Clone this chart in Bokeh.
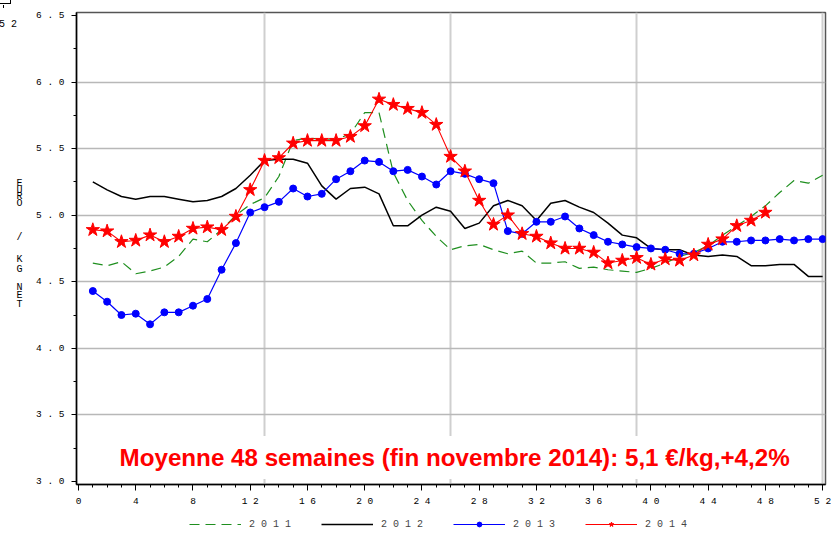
from bokeh.plotting import figure
from bokeh.models import (FixedTicker, Label, Legend, LegendItem, Range1d, Div)
from bokeh.layouts import row, column
from bokeh.embed import file_html
from bokeh.resources import INLINE

weeks = list(range(1, 53))
weeks_2014 = list(range(1, 49))

y2011 = [4.64, 4.62, 4.65, 4.56, 4.58, 4.61, 4.69, 4.82, 4.80, 4.89,
         5.00, 5.08, 5.13, 5.29, 5.56, 5.58, 5.57, 5.57, 5.61, 5.77,
         5.77, 5.32, 5.11, 4.96, 4.84, 4.74, 4.77, 4.78, 4.74, 4.71,
         4.73, 4.64, 4.64, 4.65, 4.60, 4.61, 4.59, 4.58, 4.57, 4.60,
         4.64, 4.69, 4.72, 4.77, 4.85, 4.92, 4.99, 5.07, 5.17, 5.26, 5.24, 5.30]
y2012 = [5.25, 5.19, 5.14, 5.12, 5.14, 5.14, 5.12, 5.10, 5.11, 5.14,
         5.20, 5.30, 5.41, 5.42, 5.42, 5.39, 5.22, 5.12, 5.20, 5.21,
         5.16, 4.92, 4.92, 5.00, 5.06, 5.03, 4.90, 4.94, 5.07, 5.11,
         5.07, 4.96, 5.09, 5.11, 5.06, 5.02, 4.94, 4.85, 4.83, 4.75,
         4.74, 4.74, 4.70, 4.69, 4.70, 4.69, 4.62, 4.62, 4.63, 4.63, 4.54, 4.54]
y2013 = [4.43, 4.35, 4.25, 4.26, 4.18, 4.27, 4.27, 4.32, 4.37, 4.59,
         4.79, 5.02, 5.06, 5.10, 5.20, 5.14, 5.16, 5.27, 5.33, 5.41,
         5.40, 5.33, 5.34, 5.29, 5.23, 5.33, 5.31, 5.27, 5.24, 4.88,
         4.86, 4.95, 4.95, 4.99, 4.90, 4.85, 4.80, 4.78, 4.76, 4.75,
         4.74, 4.71, 4.71, 4.75, 4.80, 4.80, 4.81, 4.81, 4.82, 4.81, 4.82, 4.82]
y2014 = [4.89, 4.88, 4.80, 4.81, 4.85, 4.80, 4.84, 4.90, 4.91, 4.89,
         4.99, 5.19, 5.41, 5.43, 5.54, 5.56, 5.56, 5.56, 5.59, 5.67,
         5.87, 5.83, 5.80, 5.77, 5.68, 5.44, 5.33, 5.11, 4.93, 5.00,
         4.86, 4.84, 4.79, 4.75, 4.75, 4.72, 4.64, 4.66, 4.68, 4.63,
         4.67, 4.66, 4.70, 4.78, 4.82, 4.92, 4.96, 5.02]

x_ticks = list(range(0, 53, 4))
x_grid = [13, 26, 39, 52]
y_ticks = [3.0, 3.5, 4.0, 4.5, 5.0, 5.5, 6.0, 6.5]
y_minor = [3.25, 3.75, 4.25, 4.75, 5.25, 5.75, 6.25]
y_axis_title = "EURO / KG NET"
series_labels = ["2011", "2012", "2013", "2014"]
annotation = "Moyenne 48 semaines (fin novembre 2014): 5,1 €/kg,+4,2%"
fragment_text = "52"

MONO = "Liberation Mono"
C11, C12, C13, C14 = "#1f8f1f", "black", "#0000ff", "#ff0000"
NAN = [float("nan")]

p = figure(width=799, height=512, output_backend="svg", toolbar_location=None,
           x_range=Range1d(-0.14, 52.2), y_range=Range1d(2.977, 6.522),
           min_border_left=0, min_border_right=6, min_border_top=12,
           min_border_bottom=28)
p.background_fill_color = "white"
p.border_fill_color = "white"
p.outline_line_color = "#555555"
p.outline_line_width = 1.5

# axes
p.xaxis.ticker = FixedTicker(ticks=x_ticks, minor_ticks=list(range(0, 53)))
p.yaxis.ticker = FixedTicker(ticks=y_ticks, minor_ticks=y_minor)
p.xaxis.major_label_overrides = {t: " ".join(str(t)) for t in x_ticks}
p.yaxis.major_label_overrides = {t: " ".join(f"{t:.1f}") for t in y_ticks}
for ax in (p.xaxis[0], p.yaxis[0]):
    ax.axis_line_color = "black"
    ax.axis_line_width = 1.5
    ax.major_tick_line_color = "black"
    ax.minor_tick_line_color = "black"
    ax.major_tick_in = 0
    ax.minor_tick_in = 0
    ax.major_label_text_font = MONO
    ax.major_label_text_font_size = "9.5px"
    ax.major_label_text_color = "black"
p.xaxis.major_tick_out = 6
p.xaxis.minor_tick_out = 3
p.xaxis.major_label_standoff = 5
p.yaxis.major_tick_out = 5
p.yaxis.minor_tick_out = 3
p.yaxis.major_label_standoff = 7

# grid
p.xgrid.ticker = FixedTicker(ticks=x_grid)
p.xgrid.grid_line_color = "#cfcfcf"
p.xgrid.grid_line_width = 2
p.ygrid.ticker = FixedTicker(ticks=y_ticks[1:-1])
p.ygrid.grid_line_color = "#b8b8b8"
p.ygrid.grid_line_width = 1.5

# series
p.line(weeks, y2011, line_color=C11, line_width=1.2, line_dash="10 6")
p.line(weeks, y2012, line_color=C12, line_width=1.5)
p.line(weeks, y2013, line_color=C13, line_width=1.2)
p.scatter(weeks, y2013, marker="circle", size=7, fill_color=C13, line_color=C13)
p.line(weeks_2014, y2014, line_color=C14, line_width=1.1)
p.scatter(weeks_2014, y2014, marker="star", size=14, fill_color=C14, line_color=C14)

# annotation text
p.add_layout(Label(x=35, y=27, x_units="screen", y_units="screen",
                   text=annotation, text_font="Liberation Sans",
                   text_font_style="bold", text_font_size="24.2px",
                   text_color=C14, text_align="left",
                   text_baseline="alphabetic",
                   background_fill_color="white", padding=8))

# legend strip below the chart (sample glyphs only, no visible data)
lg = figure(width=831, height=24, output_backend="svg", toolbar_location=None,
            x_range=Range1d(0, 831), y_range=Range1d(0, 24),
            x_axis_type=None, y_axis_type=None,
            min_border_left=0, min_border_right=0, min_border_top=0,
            min_border_bottom=0)
lg.outline_line_color = None
lg.xgrid.visible = False
lg.ygrid.visible = False
e11 = lg.line(NAN, NAN, line_color=C11, line_width=1.2, line_dash="10 6")
e12 = lg.line(NAN, NAN, line_color=C12, line_width=1.5)
e13l = lg.line(NAN, NAN, line_color=C13, line_width=1.2)
e13m = lg.scatter(NAN, NAN, marker="circle", size=7, fill_color=C13, line_color=C13)
e14l = lg.line(NAN, NAN, line_color=C14, line_width=1.1)
e14m = lg.scatter(NAN, NAN, marker="star", size=14, fill_color=C14, line_color=C14)
legend = Legend(items=[
    LegendItem(label=" ".join(series_labels[0]), renderers=[e11]),
    LegendItem(label=" ".join(series_labels[1]), renderers=[e12]),
    LegendItem(label=" ".join(series_labels[2]), renderers=[e13l, e13m]),
    LegendItem(label=" ".join(series_labels[3]), renderers=[e14l, e14m]),
], orientation="horizontal", location=(189, 6),
    glyph_width=52, glyph_height=12, label_height=12, label_standoff=8,
    spacing=30, padding=0, margin=0,
    label_text_font=MONO, label_text_font_size="10px",
    background_fill_alpha=0, border_line_alpha=0)
lg.add_layout(legend, "center")

# left strip: stacked y-axis title and fragment of the neighbouring chart
letter_tops = [181, 188, 194, 201, 235, 257, 267, 285, 293, 302]
letters = [c for c in y_axis_title if c != " "]
spans = "".join(
    f'<div style="position:absolute;left:16px;top:{t}px;width:7px;height:6px;'
    f'text-align:center;line-height:6px;">{c}</div>'
    for c, t in zip(letters, letter_tops))
frag = (f'<div style="position:absolute;left:-1px;top:20px;line-height:10px;">'
        f'{" ".join(fragment_text)}</div>'
        '<div style="position:absolute;left:0px;top:0px;width:11px;height:4px;'
        'border-right:1px solid #000;border-bottom:1px solid #000;"></div>'
        '<div style="position:absolute;left:3px;top:5px;width:0px;height:3px;'
        'border-left:1px solid #000;"></div>')
left_strip = Div(
    text=(f'<div style="position:relative;width:32px;height:512px;overflow:hidden;'
          f'font-family:\'{MONO}\';font-size:10px;color:#000;">{frag}{spans}</div>'),
    width=32, height=512, margin=0)

layout = column(row(left_strip, p, spacing=0), lg, spacing=0)
open("out.html", "w").write(file_html(layout, INLINE))
